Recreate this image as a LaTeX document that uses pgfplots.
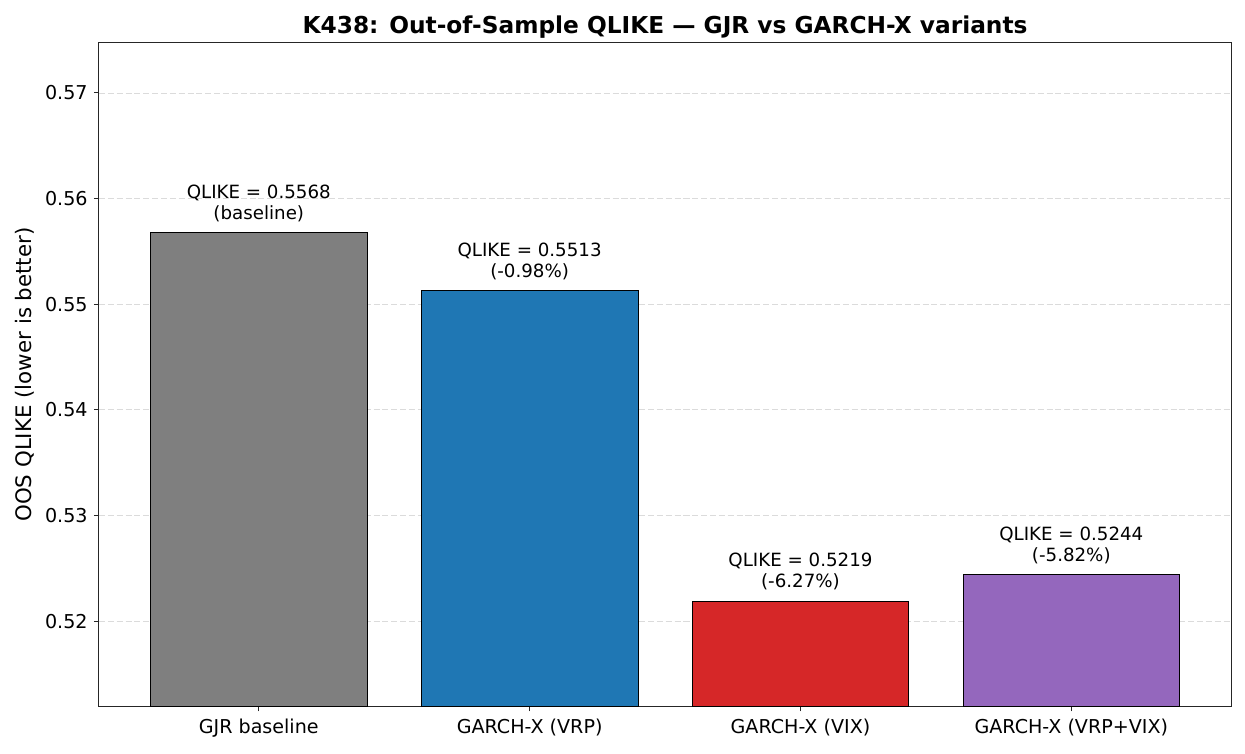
\documentclass[border=0pt]{standalone}
\usepackage{pgfplots}
\pgfplotsset{compat=1.18}
\usepackage{fontspec}
\setmainfont{DejaVu Sans}
\definecolor{mgray}{HTML}{7F7F7F}
\definecolor{mblue}{HTML}{1F77B4}
\definecolor{mred}{HTML}{D62728}
\definecolor{mpurple}{HTML}{9467BD}
\definecolor{spine}{HTML}{262626}
\begin{document}
\begin{tikzpicture}
\begin{axis}[
  at={(0,0)}, anchor=south west,
  scale only axis, width=652pt, height=382pt,
  xmin=-0.59, xmax=3.59, ymin=0.51194, ymax=0.57474,
  xtick={0,1,2,3},
  xticklabels={GJR baseline, GARCH-X (VRP), GARCH-X (VIX), GARCH-X (VRP+VIX)},
  ytick={0.52,0.53,0.54,0.55,0.56,0.57},
  yticklabel style={/pgf/number format/.cd, fixed, fixed zerofill, precision=2},
  /pgf/number format/assume math mode=true,
  tick label style={font=\fontsize{11}{13}\selectfont, color=black},
  xticklabel style={yshift=-1pt},
  tick align=outside, tick pos=left,
  major tick length=3pt,
  every tick/.style={spine, line width=0.6pt},
  axis line style={spine, line width=0.6pt},
  ymajorgrids, grid style={dash pattern=on 3.5pt off 1.6pt, gray!28, line width=0.5pt},
  ylabel={OOS QLIKE (lower is better)},
  ylabel style={font=\fontsize{12.3}{14}\selectfont, at={(-0.052,0.5)}},
  title={\textbf{K438: Out-of-Sample QLIKE — GJR vs GARCH-X variants}},
  title style={font=\fontsize{13.4}{16}\selectfont, yshift=-6.8pt},
  ybar, bar width=0.8, bar shift=0pt,
  clip=false,
]
\addplot[fill=mgray, draw=black, line width=0.4pt] coordinates {(0,0.5568)};
\addplot[fill=mblue, draw=black, line width=0.4pt] coordinates {(1,0.5513)};
\addplot[fill=mred, draw=black, line width=0.4pt] coordinates {(2,0.5219)};
\addplot[fill=mpurple, draw=black, line width=0.4pt] coordinates {(3,0.5244)};
\begin{scope}[every node/.style={font=\fontsize{10.5}{12}\selectfont, align=center, anchor=south, yshift=5pt, inner sep=1pt}]
\node at (axis cs:0,0.5568) {QLIKE = 0.5568\\(baseline)};
\node at (axis cs:1,0.5513) {QLIKE = 0.5513\\(-0.98\%)};
\node at (axis cs:2,0.5219) {QLIKE = 0.5219\\(-6.27\%)};
\node at (axis cs:3,0.5244) {QLIKE = 0.5244\\(-5.82\%)};
\end{scope}
\end{axis}
\pgfresetboundingbox
\path[use as bounding box] (-57pt,-27pt) rectangle (660pt,406.7pt);
\end{tikzpicture}
\end{document}
